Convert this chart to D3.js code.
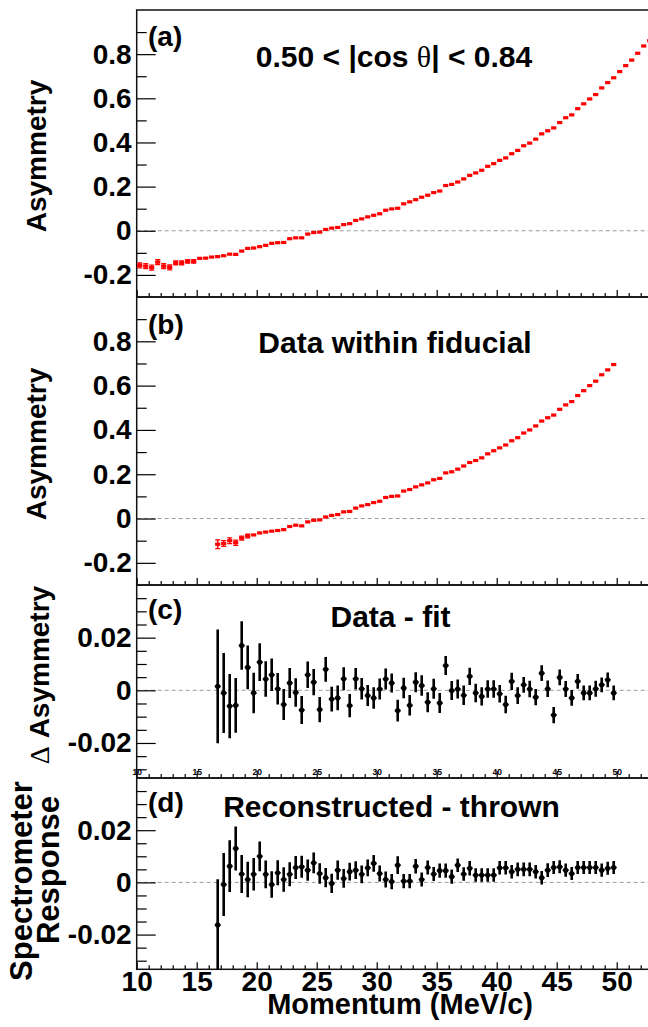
<!DOCTYPE html>
<html><head><meta charset="utf-8">
<script src="https://cdn.jsdelivr.net/npm/d3@7"></script>
<style>
html,body{margin:0;padding:0;background:#fff;}
svg{display:block;}
text{font-family:"Liberation Sans",Arial,Helvetica,sans-serif;font-weight:bold;fill:#000;}
</style></head><body>
<svg id="chart" width="648" height="1027"></svg>
<script>
// ---------------- data ----------------
const momentumA = [10.25,10.75,11.25,11.75,12.25,12.75,13.25,13.75,14.25,14.75,15.25,15.75,16.25,16.75,17.25,17.75,18.25,18.75,19.25,19.75,20.25,20.75,21.25,21.75,22.25,22.75,23.25,23.75,24.25,24.75,25.25,25.75,26.25,26.75,27.25,27.75,28.25,28.75,29.25,29.75,30.25,30.75,31.25,31.75,32.25,32.75,33.25,33.75,34.25,34.75,35.25,35.75,36.25,36.75,37.25,37.75,38.25,38.75,39.25,39.75,40.25,40.75,41.25,41.75,42.25,42.75,43.25,43.75,44.25,44.75,45.25,45.75,46.25,46.75,47.25,47.75,48.25,48.75,49.25,49.75,50.25,50.75,51.25,51.75,52.25,52.75];
const asymmetryA = [-0.157,-0.160,-0.167,-0.142,-0.160,-0.166,-0.145,-0.145,-0.139,-0.139,-0.125,-0.124,-0.119,-0.117,-0.113,-0.106,-0.107,-0.092,-0.080,-0.078,-0.072,-0.066,-0.057,-0.054,-0.053,-0.036,-0.032,-0.032,-0.015,-0.008,-0.006,0.006,0.012,0.015,0.028,0.032,0.047,0.054,0.063,0.070,0.077,0.093,0.099,
0.102,0.122,0.131,0.141,0.152,0.161,0.173,0.180,0.205,0.210,0.221,0.235,0.251,0.262,0.274,0.292,0.304,0.319,0.330,0.349,0.364,0.385,0.397,0.415,0.439,0.453,0.466,0.490,0.512,0.525,0.553,0.575,0.597,0.617,0.647,0.671,0.693,0.721,0.748,0.773,0.804,0.837,0.861];
const asymmetryErrA = [0.011,0.011,0.011,0.011,0.011,0.011,0.009,0.009,0.008,0.008,0.007,0.007,0.007,0.006,0.006,0.006,0.006,0.005,0.005,0.005,0.005,0.005,0.005,0.005,0.005,0.004,0.004,0.004,0.004,0.004,0.004,0.004,0.004,0.004,0.004,0.004,0.004,0.004,0.004,0.004,0.004,0.004,0.004,0.004,0.004,0.004,0.004,0.004,0.004,0.004,0.004,0.004,0.004,0.004,0.004,0.004,0.004,0.004,0.004,0.004,0.004,0.004,0.004,0.004,0.004,0.004,0.004,0.004,0.004,0.004,0.004,0.004,0.004,0.004,0.004,0.004,0.004,0.004,0.004,0.004,0.004,0.004,0.004,0.004,0.004,0.004];

const momentumFid = [16.75,17.25,17.75,18.25,18.75,19.25,19.75,20.25,20.75,21.25,21.75,22.25,22.75,23.25,23.75,24.25,24.75,25.25,25.75,26.25,26.75,27.25,27.75,28.25,28.75,29.25,29.75,30.25,30.75,31.25,31.75,32.25,32.75,33.25,33.75,34.25,34.75,35.25,35.75,36.25,36.75,37.25,37.75,38.25,38.75,39.25,39.75,40.25,40.75,41.25,41.75,42.25,42.75,43.25,43.75,44.25,44.75,45.25,45.75,46.25,46.75,47.25,47.75,48.25,48.75,49.25,49.75];
const asymmetryB = [-0.116,-0.113,-0.100,-0.109,-0.088,-0.079,-0.074,-0.065,-0.061,-0.057,-0.054,-0.050,-0.036,-0.030,-0.033,-0.015,-0.008,-0.006,0.007,0.014,0.018,0.030,0.032,0.047,0.057,0.063,0.072,0.078,0.095,0.100,
0.102,0.124,0.131,0.143,0.152,0.161,0.175,0.181,0.206,0.211,0.223,0.237,0.253,0.262,0.274,0.292,0.306,0.319,0.332,0.351,0.365,0.386,0.400,0.418,0.440,0.455,0.467,0.493,0.513,0.528,0.555,0.577,0.600,0.620,0.649,0.671,0.695];
const asymmetryErrB = [0.020,0.013,0.013,0.012,0.009,0.008,0.007,0.007,0.006,0.006,0.006,0.005,0.005,0.005,0.005,0.005,0.005,0.004,0.004,0.004,0.004,0.004,0.004,0.004,0.004,0.004,0.004,0.004,0.004,0.004,0.004,0.004,0.004,0.004,0.004,0.004,0.004,0.004,0.004,0.004,0.004,0.004,0.004,0.004,0.004,0.004,0.004,0.004,0.004,0.004,0.004,0.004,0.004,0.004,0.004,0.004,0.004,0.004,0.004,0.004,0.004,0.004,0.004,0.004,0.004,0.004,0.004];

const deltaAsym = [0.0015,-0.001,-0.006,-0.0057,0.017,0.0087,-0.001,0.0107,0.0043,0.0059,0.0006,-0.0054,0.0028,-0.0008,-0.0075,0.0059,0.0031,-0.0073,0.008,-0.0033,-0.0029,0.0044,-0.0058,0.0044,0.0006,-0.002,-0.0029,0.0005,0.0043,
0.0028,-0.0077,0.0009,-0.0057,0.0031,0.0018,-0.0045,0.0006,-0.0048,0.0094,-0.0001,0.0005,-0.0019,0.0053,-0.001,-0.0023,0.0005,0.0005,-0.0013,-0.0054,0.0034,-0.002,0.0021,0.0005,-0.0026,0.0065,0.0006,-0.0094,0.0049,0.0005,-0.0029,0.0034,-0.001,-0.001,0.0006,0.0021,0.004,-0.001];
const deltaAsymErr = [0.0216,0.0152,0.0122,0.0104,0.0092,0.0083,0.0077,0.0072,0.0067,0.0062,0.006,0.0059,0.0057,0.0054,0.0053,0.005,0.005,0.0048,0.0047,0.0047,0.0047,0.0044,0.0044,0.0041,0.0041,0.004,0.0041,0.004,0.004,
0.0036,0.0041,0.0039,0.0039,0.0038,0.0039,0.0038,0.0038,0.0038,0.0036,0.0036,0.0036,0.0037,0.0033,0.0035,0.0035,0.0033,0.0033,0.0033,0.0033,0.0033,0.0032,0.003,0.0031,0.0031,0.003,0.0031,0.0031,0.003,0.003,0.003,0.0028,0.0028,0.0028,0.003,0.0028,0.0028,0.0028];

const specResponse = [-0.0163,-0.0008,0.0062,0.013,0.0032,0.0011,0.0031,0.01,0.0031,-0.0008,0.0037,0.0011,0.0031,0.0057,0.006,0.0047,0.0075,0.0034,0.0018,-0.0004,0.0047,0.0015,0.0041,0.0047,0.0031,0.0056,0.0073,0.0034,0.0011,
0.0003,0.0066,0.0005,0.0005,0.0062,0.0011,0.0057,0.0032,0.0045,0.0045,0.0022,0.0066,0.0032,0.0054,0.0028,0.0028,0.0028,0.0028,0.0056,0.0056,0.0041,0.005,0.005,0.005,0.0041,0.0018,0.0047,0.0057,0.006,0.0047,0.0034,0.0057,0.0057,0.0057,0.0057,0.0047,0.0054,0.0057];
const specResponseErr = [0.0175,0.0121,0.0099,0.0084,0.0073,0.0068,0.0062,0.0057,0.0053,0.0051,0.0048,0.0047,0.0046,0.0044,0.0042,0.0041,0.004,0.0039,0.0037,0.0037,0.0037,0.0036,0.0034,0.0034,0.0034,0.0032,0.0032,0.0031,0.0031,
0.0029,0.0034,0.0027,0.0027,0.0028,0.0027,0.0027,0.0027,0.0027,0.0027,0.0027,0.0026,0.0026,0.0028,0.0026,0.0026,0.0026,0.0026,0.0026,0.0026,0.0026,0.0026,0.0026,0.0026,0.0026,0.0026,0.0026,0.0025,0.0025,0.0025,0.0025,0.0025,0.0025,0.0025,0.0025,0.0025,0.0025,0.0025];

const xMajorTicks = [10,15,20,25,30,35,40,45,50];
const xTickLabels = ["10","15","20","25","30","35","40","45","50"];
const yTicksAsym = [-0.2,0,0.2,0.4,0.6,0.8];
const yTickLabelsAsym = ["-0.2","0","0.2","0.4","0.6","0.8"];
const yMinorAsym = [-0.1,0.1,0.3,0.5,0.7,0.9];
const yTicksSmall = [-0.02,0,0.02];
const yTickLabelsSmall = ["-0.02","0","0.02"];
const yMinorSmall = [-0.03,-0.025,-0.015,-0.01,-0.005,0.005,0.01,0.015,0.025,0.03,0.035];

// ---------------- drawing ----------------
const svg = d3.select("#chart");
const FONT = "Liberation Sans, Arial, Helvetica, sans-serif";
const x = d3.scaleLinear().domain([10, 53]).range([136.7, 652.7]);
const xMinor = d3.range(11, 53).filter(v => v % 5 !== 0);

const panels = [
  {key:"a", top:10, bottom:297, dom:[-0.3,1.0], major:yTicksAsym, labels:yTickLabelsAsym, minor:yMinorAsym,
   xs:momentumA, vs:asymmetryA, es:asymmetryErrA, style:"red", tag:"(a)", tagY:46, xLab:"none"},
  {key:"b", top:297, bottom:585, dom:[-0.3,1.0], major:yTicksAsym, labels:yTickLabelsAsym, minor:yMinorAsym,
   xs:momentumFid, vs:asymmetryB, es:asymmetryErrB, style:"red", tag:"(b)", tagY:334, xLab:"none"},
  {key:"c", top:585, bottom:778, dom:[-0.0333,0.04], major:yTicksSmall, labels:yTickLabelsSmall, minor:yMinorSmall,
   xs:momentumFid, vs:deltaAsym, es:deltaAsymErr, style:"black", tag:"(c)", tagY:619, xLab:"small"},
  {key:"d", top:778, bottom:969.3, dom:[-0.0333,0.04], major:yTicksSmall, labels:yTickLabelsSmall, minor:yMinorSmall,
   xs:momentumFid, vs:specResponse, es:specResponseErr, style:"black", tag:"(d)", tagY:812, xLab:"big"}
];

panels.forEach(p => {
  const y = d3.scaleLinear().domain(p.dom).range([p.bottom, p.top]);
  const g = svg.append("g");
  const clipId = "clip-" + p.key;
  svg.append("clipPath").attr("id", clipId).append("rect")
    .attr("x", x(10)).attr("y", p.top).attr("width", x(53) - x(10)).attr("height", p.bottom - p.top);

  // zero line
  g.append("line").attr("x1", x(10)).attr("x2", x(53)).attr("y1", y(0)).attr("y2", y(0))
    .attr("stroke", "#9a9a9a").attr("stroke-width", 1).attr("stroke-dasharray", "4,3");

  // y axes
  const yMaj = g.append("g").attr("transform", `translate(${x(10)},0)`)
    .call(d3.axisLeft(y).tickValues(p.major).tickFormat((d, i) => p.labels[i]).tickSizeInner(-19).tickSizeOuter(0).tickPadding(5));
  yMaj.select(".domain").remove();
  yMaj.selectAll("line").attr("stroke", "#000").attr("stroke-width", 1.2);
  yMaj.selectAll("text").attr("font-family", FONT).attr("font-weight", "bold").attr("font-size", 28);
  const yMin = g.append("g").attr("transform", `translate(${x(10)},0)`)
    .call(d3.axisLeft(y).tickValues(p.minor).tickFormat("").tickSizeInner(-10).tickSizeOuter(0));
  yMin.select(".domain").remove();
  yMin.selectAll("line").attr("stroke", "#000").attr("stroke-width", 1.2);

  // x axes (ticks pointing inward)
  const xa = d3.axisBottom(x).tickValues(xMajorTicks).tickSizeInner(-7).tickSizeOuter(0);
  if (p.xLab === "none") xa.tickFormat("");
  else xa.tickFormat((d, i) => xTickLabels[i]);
  if (p.xLab === "small") xa.tickPadding(-9);
  if (p.xLab === "big") xa.tickPadding(2);
  const xMaj = g.append("g").attr("transform", `translate(0,${p.bottom})`).call(xa);
  xMaj.select(".domain").remove();
  xMaj.selectAll("line").attr("stroke", "#000").attr("stroke-width", 1.2);
  xMaj.selectAll("text").attr("font-family", FONT).attr("font-weight", "bold")
    .attr("font-size", p.xLab === "big" ? 28 : 8.5);
  const xMin = g.append("g").attr("transform", `translate(0,${p.bottom})`)
    .call(d3.axisBottom(x).tickValues(xMinor).tickFormat("").tickSizeInner(-4).tickSizeOuter(0));
  xMin.select(".domain").remove();
  xMin.selectAll("line").attr("stroke", "#000").attr("stroke-width", 1.2);

  // frame
  g.append("rect").attr("x", x(10)).attr("y", p.top).attr("width", x(53) - x(10)).attr("height", p.bottom - p.top)
    .attr("fill", "none").attr("stroke", "#111").attr("stroke-width", 1.5);

  // data
  const data = p.xs.map((m, i) => ({m, v: p.vs[i], e: p.es[i]}));
  const dg = g.append("g").attr("clip-path", `url(#${clipId})`);
  if (p.style === "red") {
    const pts = dg.selectAll("g.pt").data(data).join("g").attr("class", "pt");
    pts.filter(d => (y(d.v - d.e) - y(d.v + d.e)) > 3.2).each(function(d) {
      const s = d3.select(this);
      s.append("line").attr("x1", x(d.m)).attr("x2", x(d.m)).attr("y1", y(d.v - d.e)).attr("y2", y(d.v + d.e))
        .attr("stroke", "#ff0000").attr("stroke-width", 1.5);
      [d.v - d.e, d.v + d.e].forEach(vv => s.append("line").attr("x1", x(d.m) - 2.5).attr("x2", x(d.m) + 2.5)
        .attr("y1", y(vv)).attr("y2", y(vv)).attr("stroke", "#ff0000").attr("stroke-width", 1.3));
    });
    pts.append("rect").attr("x", d => x(d.m) - 2.6).attr("y", d => y(d.v) - 1.6).attr("width", 5.2).attr("height", 3.2)
      .attr("fill", "#ff0000");
  } else {
    const pts = dg.selectAll("g.pt").data(data).join("g").attr("class", "pt");
    pts.append("line").attr("x1", d => x(d.m)).attr("x2", d => x(d.m))
      .attr("y1", d => y(d.v - d.e)).attr("y2", d => y(d.v + d.e)).attr("stroke", "#000").attr("stroke-width", 2.6);
    pts.append("line").attr("x1", d => x(d.m) - 3).attr("x2", d => x(d.m) + 3)
      .attr("y1", d => y(d.v)).attr("y2", d => y(d.v)).attr("stroke", "#000").attr("stroke-width", 1.6);
    pts.append("circle").attr("cx", d => x(d.m)).attr("cy", d => y(d.v)).attr("r", 2.6).attr("fill", "#000");
  }

  // panel tag
  svg.append("text").attr("x", 148).attr("y", p.tagY).attr("font-size", 28).text(p.tag);
});

// titles
const t1 = svg.append("text").attr("x", 394).attr("y", 67).attr("text-anchor", "middle").attr("font-size", 30);
t1.append("tspan").text("0.50 < |cos ");
t1.append("tspan").attr("font-family", "Liberation Serif, DejaVu Serif, serif").attr("font-weight", "normal").text("θ");
t1.append("tspan").text("| < 0.84");
svg.append("text").attr("x", 395).attr("y", 353).attr("text-anchor", "middle").attr("font-size", 30).text("Data within fiducial");
svg.append("text").attr("x", 390.5).attr("y", 627).attr("text-anchor", "middle").attr("font-size", 30).text("Data - fit");
svg.append("text").attr("x", 391.5).attr("y", 817).attr("text-anchor", "middle").attr("font-size", 30).text("Reconstructed - thrown");

// y axis titles
svg.append("text").attr("transform", "translate(46,156) rotate(-90)").attr("text-anchor", "middle").attr("font-size", 28).text("Asymmetry");
svg.append("text").attr("transform", "translate(46,444) rotate(-90)").attr("text-anchor", "middle").attr("font-size", 28).text("Asymmetry");
const dt = svg.append("text").attr("transform", "translate(49,675) rotate(-90)").attr("text-anchor", "middle").attr("font-size", 28);
dt.append("tspan").attr("font-family", "Liberation Serif, DejaVu Serif, serif").attr("font-weight", "normal").text("Δ");
dt.append("tspan").text(" Asymmetry");
svg.append("text").attr("transform", "translate(32,881) rotate(-90)").attr("text-anchor", "middle").attr("font-size", 31).text("Spectrometer");
svg.append("text").attr("transform", "translate(59,870) rotate(-90)").attr("text-anchor", "middle").attr("font-size", 31).text("Response");

// x axis title
svg.append("text").attr("x", 533).attr("y", 1014).attr("text-anchor", "end").attr("font-size", 29).text("Momentum (MeV/c)");
</script>
</body></html>
